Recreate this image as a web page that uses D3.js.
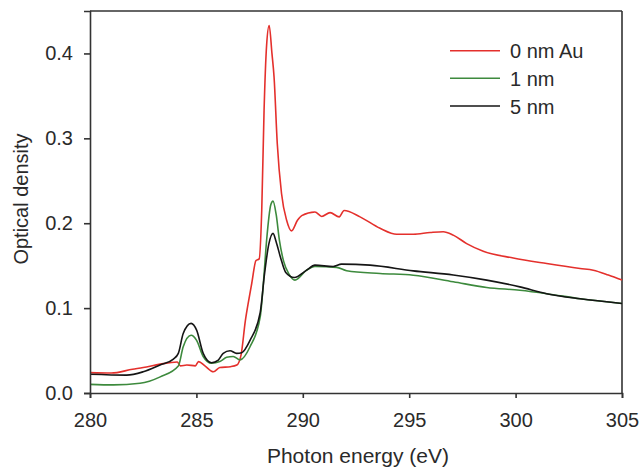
<!DOCTYPE html>
<html><head><meta charset="utf-8">
<script src="https://cdn.jsdelivr.net/npm/d3@7"></script>
<style>body{margin:0;background:#fff}svg{display:block}</style>
</head><body><svg id="c" width="643" height="468"></svg>
<script>
const seriesNames = ["0 nm Au", "1 nm", "5 nm"];
const seriesColors = ["#e4302c", "#3d8a3d", "#151515"];
const xTicks = [280, 285, 290, 295, 300, 305];
const yTicks = [0.0, 0.1, 0.2, 0.3, 0.4];

const red = [
 [280,0.024],[281,0.0235],[282,0.028],[282.5,0.030],[283.3,0.034],[284.1,0.0365],[284.25,0.032],
 [284.55,0.033],[284.95,0.032],[285.1,0.037],[285.4,0.032],[285.8,0.025],[286.1,0.030],[286.6,0.031],
 [286.9,0.033],[287.1,0.045],[287.3,0.085],[287.45,0.108],[287.6,0.129],[287.8,0.156],[287.95,0.158],
 [288.07,0.215],[288.18,0.333],[288.3,0.41],[288.42,0.433],[288.55,0.40],[288.65,0.372],[288.8,0.294],
 [289.0,0.235],[289.24,0.2035],[289.47,0.191],[289.75,0.2035],[289.95,0.209],[290.57,0.2133],
 [290.89,0.208],[291.28,0.2125],[291.71,0.2075],[291.94,0.215],[292.69,0.2075],[293.63,0.194],
 [294.41,0.187],[295.19,0.187],[295.98,0.189],[296.6,0.19],[297.07,0.186],[297.7,0.176],[298.48,0.167],
 [299.89,0.159],[301.46,0.1525],[303.03,0.1467],[303.65,0.1447],[304.36,0.139],[305,0.133]
];
const green = [
 [280,0.0102],[281.1,0.0096],[282.35,0.0114],[283.3,0.019],[284.15,0.0318],[284.38,0.0545],
 [284.75,0.068],[285.01,0.062],[285.32,0.043],[285.71,0.035],[286.1,0.037],[286.42,0.042],
 [286.73,0.043],[287.05,0.039],[287.52,0.0545],[288.0,0.09],[288.15,0.13],[288.3,0.18],
 [288.5,0.222],[288.6,0.226],[288.75,0.21],[288.9,0.18],[289.1,0.155],[289.35,0.14],[289.63,0.133],
 [290.18,0.1447],[290.57,0.149],[291.59,0.148],[292.06,0.144],[293.63,0.1408],[295.19,0.1388],
 [297.07,0.131],[298.64,0.1243],[300.2,0.121],[301.46,0.117],[303.03,0.111],[305,0.1055]
];
const black = [
 [280,0.022],[281.72,0.021],[282.5,0.025],[283.29,0.033],[283.92,0.04],[284.15,0.0467],[284.38,0.070],
 [284.75,0.082],[285.01,0.074],[285.32,0.0467],[285.71,0.0357],[286.03,0.0388],[286.26,0.0467],
 [286.58,0.0498],[286.89,0.0467],[287.13,0.0475],[287.52,0.062],[288.0,0.095],[288.2,0.14],
 [288.4,0.175],[288.6,0.188],[288.75,0.178],[288.95,0.16],[289.2,0.142],[289.6,0.136],[290.18,0.1447],
 [290.57,0.1506],[291.43,0.149],[291.82,0.1518],[293.16,0.1506],[295.19,0.1439],[297.07,0.139],
 [298.64,0.133],[300.2,0.125],[301.46,0.117],[303.03,0.111],[305,0.1055]
];
const seriesData = [red, green, black];

const svg = d3.select("#c");
const W = 643, H = 468;
const m = {l:90, r:W-622, t:11, b:H-393};
const x = d3.scaleLinear().domain([280,305]).range([m.l, W-m.r]);
const y = d3.scaleLinear().domain([0,0.45]).range([H-m.b, m.t]);
const font = "'Liberation Sans', Arial, sans-serif";
const axisColor = "#333";
const textColor = "#2a2a2a";

// frame
svg.append("line").attr("x1",m.l).attr("x2",W-m.r).attr("y1",m.t).attr("y2",m.t)
  .attr("stroke",axisColor).attr("stroke-width",1.6);
svg.append("line").attr("x1",W-m.r).attr("x2",W-m.r).attr("y1",m.t).attr("y2",H-m.b)
  .attr("stroke",axisColor).attr("stroke-width",1.6);

const line = d3.line().x(d=>x(d[0])).y(d=>y(d[1])).curve(d3.curveMonotoneX);
seriesData.forEach((s,i)=>{
  svg.append("path").datum(s).attr("d",line).attr("fill","none")
    .attr("stroke",seriesColors[i]).attr("stroke-width",1.6).attr("stroke-linejoin","round");
});

const xa = svg.append("g").attr("transform",`translate(0,${H-m.b})`)
  .call(d3.axisBottom(x).tickValues(xTicks).tickSize(5).tickPadding(15).tickFormat(d3.format("d")));
const ya = svg.append("g").attr("transform",`translate(${m.l},0)`)
  .call(d3.axisLeft(y).tickValues(yTicks).tickSize(6).tickPadding(11).tickFormat(d3.format(".1f")));
[xa,ya].forEach(a=>{
  a.select(".domain").attr("stroke",axisColor).attr("stroke-width",1.6);
  a.selectAll(".tick line").attr("stroke",axisColor).attr("stroke-width",1.6);
  a.selectAll(".tick text").attr("fill",textColor).style("font-family",font).style("font-size","20px");
});

svg.append("text").attr("x",358).attr("y",463).attr("text-anchor","middle")
  .style("font-family",font).style("font-size","21px").attr("fill",textColor).text("Photon energy (eV)");
svg.append("text").attr("transform",`translate(28,199) rotate(-90)`).attr("text-anchor","middle")
  .style("font-family",font).style("font-size","20px").attr("fill",textColor).text("Optical density");

// legend
const ly = [50.7, 78.3, 106];
seriesNames.forEach((n,i)=>{
  svg.append("line").attr("x1",450).attr("x2",500).attr("y1",ly[i]).attr("y2",ly[i])
    .attr("stroke",seriesColors[i]).attr("stroke-width",1.6);
  svg.append("text").attr("x",510).attr("y",ly[i]+7.5).style("font-family",font).style("font-size","20px")
    .attr("fill",textColor).text(n);
});
</script></body></html>
